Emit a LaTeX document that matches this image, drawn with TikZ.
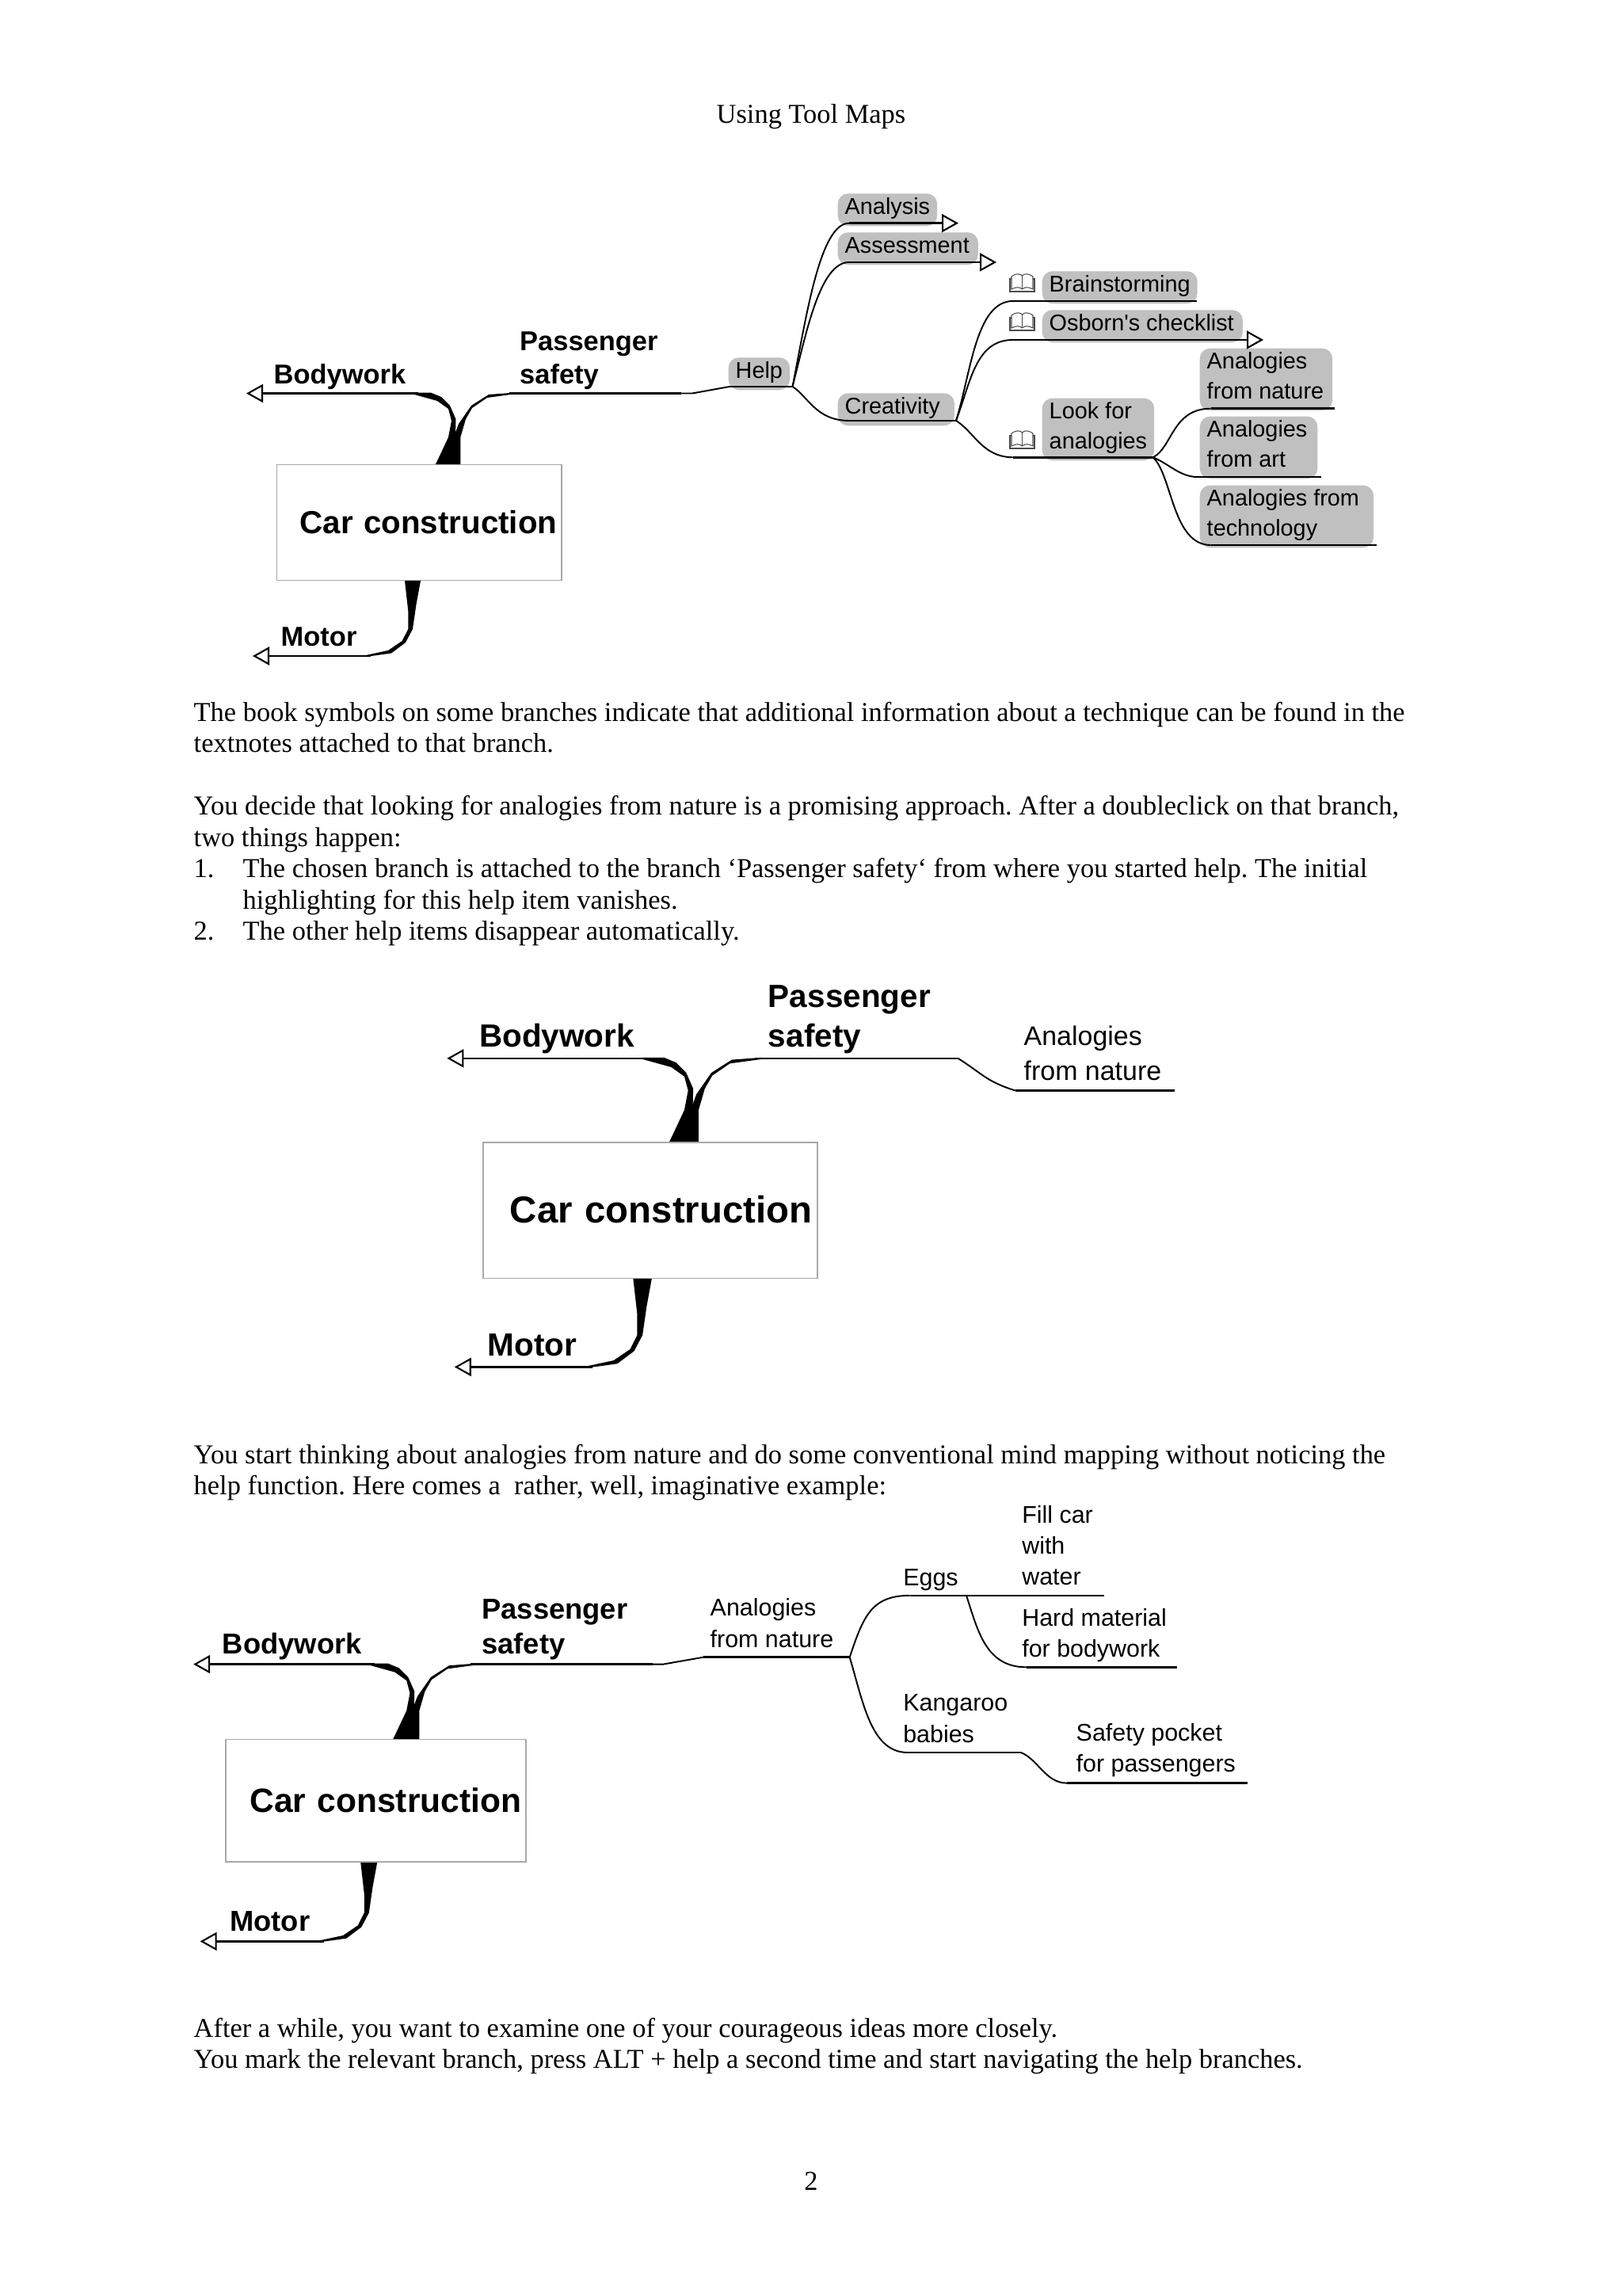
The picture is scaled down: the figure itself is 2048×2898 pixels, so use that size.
\documentclass[tikz,border=0pt]{standalone}
\usepackage{fontspec}
\usepackage{tikz}
\usetikzlibrary{arrows.meta}
\setmainfont{Liberation Serif}
\newfontfamily\mapfont{Liberation Sans}

\definecolor{hlgray}{HTML}{C0C0C0}
\definecolor{boxgray}{HTML}{A8A8A8}

\tikzset{
  pagetext/.style={anchor=base west,inner sep=0pt,font=\frenchspacing\fontsize{9.79}{11.3}\selectfont},
  branch/.style={line width=.55pt,line join=round},
  underline/.style={line width=.75pt},
  opentip/.style={-{Triangle[open,length=.21cm,width=.23cm,line width=.6pt]},line width=.75pt},
  label/.style={anchor=south west,inner ysep=0pt,inner xsep=.09cm,align=left,
    font=\mapfont\fontsize{8.2}{10.7}\selectfont},
  hl/.style={label,fill=hlgray,rounded corners=.13cm},
  plain/.style={anchor=base west,inner sep=0pt,align=left,
    font=\mapfont\fontsize{8.65}{11.2}\selectfont},
  toplabel/.style={anchor=base west,inner sep=0pt,align=left,
    font=\mapfont\bfseries\fontsize{9.8}{12.05}\selectfont},
  carbox/.style={draw=boxgray,line width=.4pt,fill=white,anchor=north west,inner sep=0pt,
    minimum width=3.59cm,minimum height=1.46cm,text width=3.59cm,align=left,
    font=\mapfont\bfseries\fontsize{11.46}{14}\selectfont},
  book/.pic={
    \draw[black!70,line width=.3pt,fill=white] (-13.5,8) -- (-13.5,-8) .. controls (-8,-12) and (-3,-12) .. (0,-9)
      .. controls (3,-12) and (8,-12) .. (13.5,-8) -- (13.5,8) .. controls (8,5) and (3,5) .. (0,8)
      .. controls (-3,5) and (-8,5) .. (-13.5,8) -- cycle;
    \draw[black!70,line width=.3pt] (0,-9) -- (0,8);
    \draw[black!70,line width=.3pt] (-13.5,-5) -- (-15.5,-5) -- (-15.5,11) -- (15.5,11) -- (15.5,-5) -- (13.5,-5);
  }
}

% height and depth of a highlight around its text
\newcommand{\hltop}{\vrule width 0pt height .26cm depth 0pt}
\newcommand{\hlbot}{\vrule width 0pt height 0pt depth .15cm}

% the central box with its three main branches
% #1 prefix of the names, #2 top left corner of the box, #3 scale
\newcommand{\carmap}[3]{%
  \begin{scope}[shift={#2},scale=#3,transform shape]
    % tapered branches
    \fill (172,-90.4) -- (195,-90.4) -- (208,-85) -- (219,-74) -- (226.5,-57) -- (226,-36) -- (232,0)
      -- (201,0) -- (217,-34) -- (221,-55) -- (217,-70) -- (203,-80) -- (172,-88.6) -- cycle;
    \fill (300,-90.4) -- (268,-88) -- (246,-74) -- (230,-51) -- (219,-22) -- (201,0) -- (232.3,0)
      -- (232.3,-34) -- (239,-57) -- (247,-71) -- (266,-84) -- (300,-88.6) -- cycle;
    \fill (112,243.1) -- (145,238.5) -- (163,225) -- (172,208) -- (176.5,177) -- (182,147)
      -- (162,147) -- (166.3,185) -- (166.3,208) -- (158.7,223) -- (141,235) -- (112,241.2) -- cycle;
    % box
    \node[carbox] (#1-box) at (0,0) {\hspace*{.29cm}\raisebox{.02cm}{Car construction}};
    % labels
    \node[toplabel] (#1-body) at (-4,-101.5) {Bodywork};
    \node[toplabel] (#1-safe) at (306.5,-101.5) {Passenger\\safety};
    \node[toplabel] (#1-motor) at (5,230) {Motor};
    % main lines
    \coordinate (#1-body-l) at (-38,-89.5);
    \coordinate (#1-body-r) at (179,-89.5);
    \coordinate (#1-safe-l) at (293.5,-89.5);
    \coordinate (#1-safe-r) at (511,-89.5);
    \coordinate (#1-motor-l) at (-30,242);
    \coordinate (#1-motor-r) at (118.5,242);
    \draw[opentip] (#1-body-r) -- (#1-body-l);
    \draw[opentip] (#1-motor-r) -- (#1-motor-l);
    \draw[underline] (#1-safe-l) -- (#1-safe-r);
  \end{scope}
}

\begin{document}
\begin{tikzpicture}[x=.01cm,y=-.01cm]
  \path[use as bounding box] (0,0) rectangle (2048,2898);

  % Page text
  \node[pagetext,anchor=base] (head) at (1024,156) {Using Tool Maps};
  \node[pagetext] (texta) at (244,910) {The book symbols on some branches indicate that additional information about a technique can be found in the};
  \node[pagetext] (textb) at (244,949) {textnotes attached to that branch.};
  \node[pagetext] (textc) at (244,1028) {You decide that looking for analogies from nature is a promising approach. After a doubleclick on that branch,};
  \node[pagetext] (textd) at (244,1068) {two things happen:};
  \node[pagetext] (texte) at (244,1107) {1.};
  \node[pagetext] (textf) at (306,1107) {The chosen branch is attached to the branch ‘Passenger safety‘ from where you started help. The initial};
  \node[pagetext] (textg) at (306,1147) {highlighting for this help item vanishes.};
  \node[pagetext] (texth) at (244,1186) {2.};
  \node[pagetext] (texti) at (306,1186) {The other help items disappear automatically.};
  \node[pagetext] (textj) at (244,1847) {You start thinking about analogies from nature and do some conventional mind mapping without noticing the};
  \node[pagetext] (textk) at (244,1886) {help function. Here comes a\ \ rather, well, imaginative example:};
  \node[pagetext] (textl) at (244,2571) {After a while, you want to examine one of your courageous ideas more closely.};
  \node[pagetext] (textm) at (244,2610) {You mark the relevant branch, press ALT + help a second time and start navigating the help branches.};
  \node[pagetext,anchor=base] (pagenum) at (1024,2764) {2};

  % Top map
  \carmap{a}{(349,586)}{1}

  % Help nodes
  \node[hl] (help) at (919,493) {\hltop Help\hlbot};
  \node[hl] (analysis) at (1057,286) {\hltop Analysis\hlbot};
  \node[hl] (assess) at (1057,335) {\hltop Assessment\hspace{.02cm}\hlbot};
  \node[hl] (creat) at (1057,538) {\hltop Creativity\hspace{.09cm}\hlbot};
  \node[hl] (brain) at (1315,384) {\hltop Brainstorming\hlbot};
  \node[hl] (osborn) at (1315,433) {\hltop Osborn's checklist\hspace{.02cm}\hlbot};
  \node[hl] (look) at (1315,582) {\hltop Look for\\analogies\hlbot};
  \node[hl] (nature) at (1514,519) {\hltop Analogies\\from nature\hspace{.02cm}\hlbot};
  \node[hl] (art) at (1514,605) {\hltop Analogies\hspace*{.04cm}\\from art\hlbot};
  \node[hl] (tech) at (1514,692) {\hltop Analogies from\hspace*{.09cm}\\technology\hlbot};

  % Book symbols
  \pic (bookbrain) at (1290.5,357) {book};
  \pic (bookosborn) at (1290.5,406) {book};
  \pic (booklook) at (1290.5,555) {book};

  % Branch ends
  \foreach \n/\xa/\xb/\yy in {help/921/1000.5/488,analysis/1072/1189/281.7,assess/1072/1237/331,
      creat/1072/1207/531,brain/1279/1511/380,osborn/1279/1572/429,look/1279/1455.7/577.3,
      nature/1528.6/1685/515.7,art/1511.4/1668/602,tech/1528.6/1738/688} {
    \coordinate (\n-l) at (\xa,\yy);
    \coordinate (\n-r) at (\xb,\yy);
  }
  \coordinate (analysis-tip) at (1210,281.7);
  \coordinate (assess-tip) at (1258,331);
  \coordinate (osborn-tip) at (1595,429);

  % Help branches
  \draw[branch] (a-safe-r) -- ++(14,0) -- (help-l);
  \draw[underline] (help-l) -- (help-r);
  \draw[branch] (help-r) .. controls (1018,400) and (1035,281.7) .. (analysis-l);
  \draw[branch] (help-r) .. controls (1018,420) and (1035,331) .. (assess-l);
  \draw[branch] (help-r) .. controls (1020,500) and (1030,531) .. (creat-l);
  \draw[opentip] (analysis-l) -- (analysis-tip);
  \draw[opentip] (assess-l) -- (assess-tip);
  \draw[underline] (creat-l) -- (creat-r);
  \draw[branch] (creat-r) .. controls (1226,470) and (1232,380) .. (brain-l);
  \draw[branch] (creat-r) .. controls (1226,480) and (1232,429) .. (osborn-l);
  \draw[branch] (creat-r) .. controls (1230,545) and (1240,577) .. (look-l);
  \draw[underline] (brain-l) -- (brain-r);
  \draw[opentip] (osborn-l) -- (osborn-tip);
  \draw[underline] (look-l) -- (look-r);
  \draw[branch] (look-r) .. controls (1480,565) and (1480,515.7) .. (nature-l);
  \draw[branch] (look-r) .. controls (1475,585) and (1490,602) .. (art-l);
  \draw[branch] (look-r) .. controls (1480,600) and (1480,688) .. (tech-l);
  \draw[underline] (nature-l) -- (nature-r);
  \draw[underline] (art-l) -- (art-r);
  \draw[underline] (tech-l) -- (tech-r);

  % Middle map
  \carmap{b}{(609,1441)}{1.175}

  \node[plain,font=\mapfont\fontsize{9.65}{12.5}\selectfont] (bnature) at (1292,1363.5) {Analogies\\from nature};
  \coordinate (bnature-l) at (1281.7,1376.5);
  \coordinate (bnature-r) at (1482.6,1376.5);
  \draw[branch] (b-safe-r) .. controls (1240,1355) and (1245,1365) .. (bnature-l);
  \draw[underline] (bnature-l) -- (bnature-r);

  % Bottom map
  \carmap{c}{(284.3,2195)}{1.055}

  \node[plain] (cnature) at (896,2079) {Analogies\\from nature};
  \node[plain] (eggs) at (1139.6,2001) {Eggs};
  \node[plain] (fill) at (1289.6,2000.8) {Fill car\\with\\water};
  \node[plain] (hard) at (1289.6,2091.7) {Hard material\\for bodywork};
  \node[plain] (kanga) at (1139.6,2199) {Kangaroo\\babies};
  \node[plain] (pocket) at (1358,2236.8) {Safety pocket\\for passengers};

  \foreach \n/\xa/\xb/\yy in {cnature/888/1072.7/2091.7,eggs/1148.6/1394/2013.8,hard/1296/1486/2104.3,
      kanga/1146/1288.8/2212,pocket/1346.8/1575/2250.6} {
    \coordinate (\n-l) at (\xa,\yy);
    \coordinate (\n-r) at (\xb,\yy);
  }
  \coordinate (eggs-m) at (1220,2013.8);

  \draw[branch] (c-safe-r) -- ++(14,0) -- (cnature-l);
  \draw[underline] (cnature-l) -- (cnature-r);
  \draw[branch] (cnature-r) .. controls (1090,2040) and (1100,2014) .. (eggs-l);
  \draw[branch] (cnature-r) .. controls (1090,2150) and (1100,2212) .. (kanga-l);
  \draw[underline] (eggs-l) -- (eggs-r);
  \draw[underline] (kanga-l) -- (kanga-r);
  \draw[branch] (eggs-m) .. controls (1235,2060) and (1245,2104.3) .. (hard-l);
  \draw[underline] (hard-l) -- (hard-r);
  \draw[branch] (kanga-r) .. controls (1310,2220) and (1320,2250.6) .. (pocket-l);
  \draw[underline] (pocket-l) -- (pocket-r);
\end{tikzpicture}
\end{document}
